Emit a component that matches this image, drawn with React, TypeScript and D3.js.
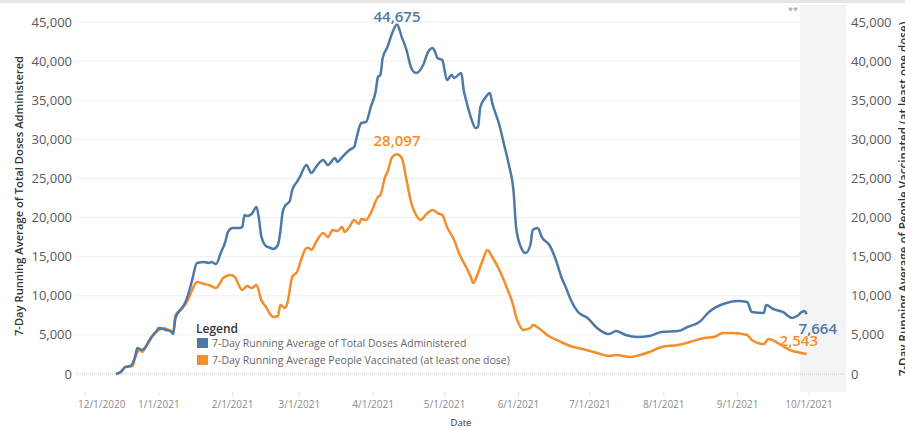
import * as d3 from "d3";

// 7-day running averages
const totalDoses: [string, number][] = [
  ["2020-12-14", 0], ["2020-12-16", 260], ["2020-12-18", 900], ["2020-12-20", 1020],
  ["2020-12-22", 2170], ["2020-12-23", 3320], ["2020-12-25", 3070], ["2020-12-27", 3710],
  ["2020-12-29", 4730], ["2020-12-31", 5500], ["2021-01-01", 5880], ["2021-01-04", 5630],
  ["2021-01-06", 5500], ["2021-01-07", 5110], ["2021-01-08", 7160], ["2021-01-10", 8180],
  ["2021-01-12", 9080], ["2021-01-14", 10870], ["2021-01-15", 12020], ["2021-01-17", 14190],
  ["2021-01-20", 14320], ["2021-01-22", 14190], ["2021-01-23", 14320], ["2021-01-25", 14060],
  ["2021-01-27", 15470], ["2021-01-29", 17000], ["2021-01-30", 18150], ["2021-02-01", 18660],
  ["2021-02-04", 18660], ["2021-02-05", 18790], ["2021-02-06", 20330], ["2021-02-07", 20200],
  ["2021-02-09", 20460], ["2021-02-11", 21350], ["2021-02-12", 19940], ["2021-02-13", 17640],
  ["2021-02-15", 16360], ["2021-02-17", 16110], ["2021-02-18", 15980], ["2021-02-20", 16490],
  ["2021-02-21", 18150], ["2021-02-22", 20710], ["2021-02-23", 21480], ["2021-02-25", 22120],
  ["2021-02-26", 23520], ["2021-02-28", 24550], ["2021-03-01", 25060], ["2021-03-04", 26720],
  ["2021-03-06", 25700], ["2021-03-08", 26460], ["2021-03-11", 27360], ["2021-03-13", 26720],
  ["2021-03-16", 27610], ["2021-03-17", 27100], ["2021-03-19", 27740], ["2021-03-22", 28640],
  ["2021-03-24", 29020], ["2021-03-25", 30170], ["2021-03-27", 32090], ["2021-03-29", 32220],
  ["2021-03-31", 34130], ["2021-04-02", 36050], ["2021-04-03", 37970], ["2021-04-04", 38220],
  ["2021-04-05", 40400], ["2021-04-07", 41800], ["2021-04-09", 43590], ["2021-04-11", 44675],
  ["2021-04-13", 43080], ["2021-04-15", 41420], ["2021-04-17", 39120], ["2021-04-19", 38480],
  ["2021-04-22", 39500], ["2021-04-24", 41160], ["2021-04-26", 41680], ["2021-04-27", 41160],
  ["2021-04-28", 40400], ["2021-04-30", 40140], ["2021-05-02", 37580], ["2021-05-04", 38220],
  ["2021-05-05", 37840], ["2021-05-08", 38480], ["2021-05-09", 36310], ["2021-05-10", 35030],
  ["2021-05-12", 32850], ["2021-05-14", 31450], ["2021-05-15", 31580], ["2021-05-16", 34130],
  ["2021-05-18", 35280], ["2021-05-20", 35920], ["2021-05-21", 34640], ["2021-05-24", 31830],
  ["2021-05-26", 29280], ["2021-05-28", 26720], ["2021-05-30", 23140], ["2021-05-31", 18790],
  ["2021-06-02", 16240], ["2021-06-04", 15470], ["2021-06-06", 16490], ["2021-06-07", 18410],
  ["2021-06-09", 18660], ["2021-06-11", 17390], ["2021-06-14", 16490], ["2021-06-17", 14320],
  ["2021-06-19", 12400], ["2021-06-21", 10990], ["2021-06-23", 9460], ["2021-06-26", 7930],
  ["2021-06-30", 7160], ["2021-07-04", 5880], ["2021-07-09", 5110], ["2021-07-12", 5500],
  ["2021-07-16", 4990], ["2021-07-21", 4730], ["2021-07-26", 4860], ["2021-07-31", 5370],
  ["2021-08-07", 5500], ["2021-08-11", 6010], ["2021-08-16", 6650], ["2021-08-20", 7930],
  ["2021-08-26", 8950], ["2021-09-01", 9330], ["2021-09-05", 9200], ["2021-09-07", 7930],
  ["2021-09-12", 7800], ["2021-09-13", 8820], ["2021-09-16", 8310], ["2021-09-20", 7930],
  ["2021-09-24", 7160], ["2021-09-26", 7410], ["2021-09-28", 7930], ["2021-09-29", 8050],
  ["2021-09-30", 7664],
];

const peopleVaccinated: [string, number][] = [
  ["2020-12-14", 0], ["2020-12-16", 260], ["2020-12-18", 900], ["2020-12-21", 1020],
  ["2020-12-22", 2050], ["2020-12-24", 3070], ["2020-12-25", 2810], ["2020-12-28", 4350],
  ["2020-12-31", 5370], ["2021-01-03", 5880], ["2021-01-05", 5630], ["2021-01-07", 5240],
  ["2021-01-08", 7540], ["2021-01-11", 8440], ["2021-01-13", 9330], ["2021-01-15", 10740],
  ["2021-01-17", 11760], ["2021-01-20", 11510], ["2021-01-22", 11380], ["2021-01-25", 10990],
  ["2021-01-27", 11760], ["2021-01-28", 12270], ["2021-01-31", 12660], ["2021-02-02", 12400],
  ["2021-02-03", 11760], ["2021-02-05", 10740], ["2021-02-07", 11250], ["2021-02-09", 10990],
  ["2021-02-11", 11380], ["2021-02-13", 9460], ["2021-02-15", 8570], ["2021-02-17", 7540],
  ["2021-02-18", 7290], ["2021-02-20", 7410], ["2021-02-21", 8820], ["2021-02-23", 8440],
  ["2021-02-24", 9080], ["2021-02-26", 12400], ["2021-02-28", 13040], ["2021-03-02", 14830],
  ["2021-03-04", 16110], ["2021-03-05", 16110], ["2021-03-06", 15850], ["2021-03-08", 16870],
  ["2021-03-11", 18030], ["2021-03-13", 17510], ["2021-03-15", 18410], ["2021-03-17", 18280],
  ["2021-03-19", 18790], ["2021-03-20", 18150], ["2021-03-22", 18790], ["2021-03-24", 19690],
  ["2021-03-26", 19180], ["2021-03-27", 19820], ["2021-03-29", 19690], ["2021-03-31", 20580],
  ["2021-04-03", 22630], ["2021-04-04", 22880], ["2021-04-06", 25180], ["2021-04-07", 25820],
  ["2021-04-09", 27740], ["2021-04-11", 28097], ["2021-04-13", 27610], ["2021-04-15", 24800],
  ["2021-04-17", 21860], ["2021-04-19", 20330], ["2021-04-21", 19690], ["2021-04-23", 20330],
  ["2021-04-26", 20970], ["2021-04-28", 20580], ["2021-04-30", 20330], ["2021-05-02", 18790],
  ["2021-05-05", 17130], ["2021-05-07", 15470], ["2021-05-10", 13680], ["2021-05-12", 12400],
  ["2021-05-13", 11630], ["2021-05-15", 12910], ["2021-05-17", 14570], ["2021-05-19", 15850],
  ["2021-05-21", 14960], ["2021-05-24", 13300], ["2021-05-27", 11120], ["2021-05-30", 8570],
  ["2021-05-31", 7290], ["2021-06-01", 6520], ["2021-06-03", 5630], ["2021-06-06", 5880],
  ["2021-06-07", 6260], ["2021-06-10", 5750], ["2021-06-13", 4990], ["2021-06-18", 4220],
  ["2021-06-24", 3450], ["2021-06-28", 3200], ["2021-07-04", 2680], ["2021-07-09", 2300],
  ["2021-07-12", 2430], ["2021-07-18", 2170], ["2021-07-22", 2430], ["2021-07-26", 2810],
  ["2021-07-31", 3450], ["2021-08-07", 3710], ["2021-08-12", 4090], ["2021-08-18", 4600],
  ["2021-08-22", 4730], ["2021-08-26", 5240], ["2021-08-30", 5240], ["2021-09-05", 4990],
  ["2021-09-07", 4350], ["2021-09-12", 3840], ["2021-09-14", 4470], ["2021-09-18", 3960],
  ["2021-09-22", 3200], ["2021-09-24", 2940], ["2021-09-27", 2750], ["2021-09-30", 2543],
];

const yTicks = [0, 5000, 10000, 15000, 20000, 25000, 30000, 35000, 40000, 45000];

const seriesNames = [
  "7-Day Running Average of Total Doses Administered",
  "7-Day Running Average People Vaccinated (at least one dose)",
];
const leftTitle = "7-Day Running Average of Total Doses Administered";
const rightTitle = "7-Day Running Average of People Vaccinated (at least one dose)";

const BLUE = "#4e79a7";
const ORANGE = "#f28e2b";
const FONT = "'Open Sans', sans-serif";

const parse = d3.timeParse("%Y-%m-%d");
const fmtDate = d3.timeFormat("%-m/%-d/%Y");
const fmtNum = d3.format(",");

export default function App() {
  const width = 905;
  const height = 430;
  const paneL = 76;
  const paneR = 846;
  const shadeL = 800;

  const x = d3
    .scaleTime()
    .domain([new Date(2020, 11, 1), new Date(2021, 9, 1)])
    .range([85, 809]);
  const y = d3.scaleLinear().domain([0, 45000]).range([374, 22]);

  const blue = totalDoses.map(([d, v]) => ({ date: parse(d)!, v }));
  const orange = peopleVaccinated.map(([d, v]) => ({ date: parse(d)!, v }));

  const line = d3
    .line<{ date: Date; v: number }>()
    .x((d) => x(d.date))
    .y((d) => y(d.v))
    .curve(d3.curveMonotoneX);

  const xTicks = d3.timeMonth.range(new Date(2020, 11, 1), new Date(2021, 9, 2));

  const blueMax = blue.reduce((a, b) => (b.v > a.v ? b : a));
  const orangeMax = orange.reduce((a, b) => (b.v > a.v ? b : a));
  const blueLast = blue[blue.length - 1];
  const orangeLast = orange[orange.length - 1];

  return (
    <svg
      width={width}
      height={height}
      style={{ position: "absolute", left: 0, top: 0, background: "#fff" }}
      fontFamily={FONT}
    >
      <rect x={0} y={0} width={width} height={3} fill="#e6e6e6" />
      <rect x={shadeL} y={5} width={paneR - shadeL} height={387} fill="#f4f4f4" />

      {/* gridlines */}
      {yTicks.slice(1).map((t) => (
        <line key={t} x1={paneL} x2={shadeL} y1={y(t)} y2={y(t)} stroke="#efefef" strokeWidth={1} />
      ))}
      <line x1={paneL} x2={paneR} y1={y(0)} y2={y(0)} stroke="#c4c4c4" strokeWidth={1} strokeDasharray="1,1" />

      {/* left axis */}
      {yTicks.map((t) => (
        <text key={"l" + t} x={72} y={y(t)} dy="0.35em" textAnchor="end" fontSize={13} fill="#595959">
          {fmtNum(t)}
        </text>
      ))}
      {/* right axis */}
      {yTicks.map((t) => (
        <text key={"r" + t} x={851} y={y(t)} dy="0.35em" textAnchor="start" fontSize={13} fill="#595959">
          {fmtNum(t)}
        </text>
      ))}
      <text
        transform={`translate(23,196) rotate(-90)`}
        textAnchor="middle"
        fontSize={11.2}
        fontWeight={600}
        fill="#333"
      >
        {leftTitle}
      </text>
      <text
        transform={`translate(908,199) rotate(-90)`}
        textAnchor="middle"
        fontSize={11.6}
        fontWeight={600}
        fill="#333"
      >
        {rightTitle}
      </text>

      {/* x axis */}
      {xTicks.map((t, i) => (
        <g key={t.toISOString()}>
          <line x1={x(t)} x2={x(t)} y1={392} y2={396} stroke="#e0e0e0" />
          <text
            x={i === 0 ? 78 : x(t)}
            y={408}
            textAnchor={i === 0 ? "start" : "middle"}
            fontSize={10}
            fill="#8a8a8a"
          >
            {fmtDate(t)}
          </text>
        </g>
      ))}
      <text x={461} y={426} textAnchor="middle" fontSize={9.5} fill="#333">
        Date
      </text>

      <text x={793} y={14} textAnchor="middle" fontSize={9} fill="#888">
        **
      </text>

      {/* lines */}
      <path d={line(orange) ?? ""} fill="none" stroke={ORANGE} strokeWidth={2.5} strokeLinejoin="round" />
      <path d={line(blue) ?? ""} fill="none" stroke={BLUE} strokeWidth={2.5} strokeLinejoin="round" />

      {/* labels */}
      <text
        x={x(blueMax.date)}
        y={Math.max(22, y(blueMax.v) - 8)}
        textAnchor="middle"
        fontSize={15}
        fontWeight={600}
        fill={BLUE}
      >
        {fmtNum(blueMax.v)}
      </text>
      <text
        x={x(orangeMax.date)}
        y={y(orangeMax.v) - 8}
        textAnchor="middle"
        fontSize={15}
        fontWeight={600}
        fill={ORANGE}
      >
        {fmtNum(orangeMax.v)}
      </text>
      <text x={x(blueLast.date) - 8} y={y(blueLast.v) + 20} fontSize={15} fontWeight={600} fill={BLUE}>
        {fmtNum(blueLast.v)}
      </text>
      <text x={x(orangeLast.date) - 27} y={y(orangeLast.v) - 8} fontSize={15} fontWeight={600} fill={ORANGE}>
        {fmtNum(orangeLast.v)}
      </text>

      {/* legend */}
      <g transform="translate(196,0)">
        <text x={0} y={333} fontSize={12} fontWeight={600} fill="#333">
          Legend
        </text>
        {seriesNames.map((name, i) => (
          <g key={name} transform={`translate(1,${338 + i * 17})`}>
            <rect x={0} y={0} width={11} height={10} fill={i === 0 ? BLUE : ORANGE} />
            <text x={15} y={9} fontSize={10.5} fill="#666">
              {name}
            </text>
          </g>
        ))}
      </g>
    </svg>
  );
}
